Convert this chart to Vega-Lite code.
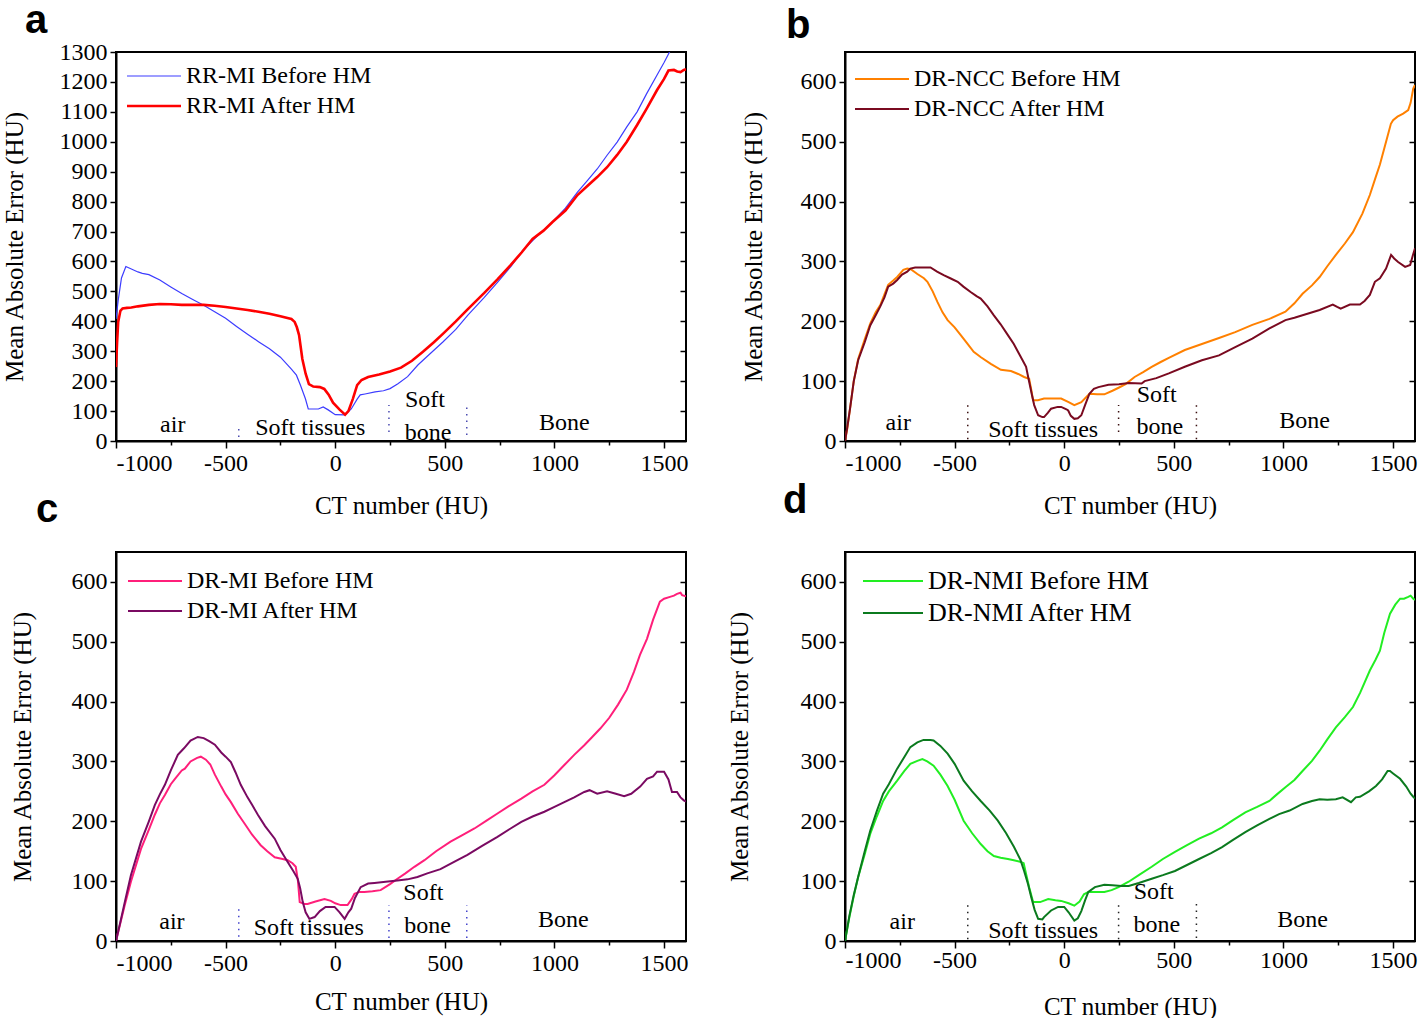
{
"$schema": "https://vega.github.io/schema/vega-lite/v6.json",
"background": "white",
"padding": {"left": 1, "top": 0, "right": 5, "bottom": 5},
"bounds": "flush",
"columns": 2,
"spacing": {"row": 111, "column": 159},
"resolve": {"scale": {"color": "independent", "strokeWidth": "independent"}, "legend": {"color": "independent"}},
"config": {
 "font": "Liberation Serif",
 "view": {"stroke": "black", "strokeWidth": 2},
 "axis": {"domainColor": "black", "domainWidth": 2, "tickColor": "black", "tickWidth": 1.5, "labelColor": "black", "labelFont": "Liberation Serif", "labelFontSize": 24, "titleFont": "Liberation Serif", "titleFontSize": 25, "titleFontWeight": "normal", "titleColor": "black", "grid": false, "labelPadding": 3},
 "legend": {"padding": 0, "symbolType": "M-1,0H5", "symbolSize": 324, "symbolStrokeWidth": 2, "labelFont": "Liberation Serif", "labelFontSize": 24, "labelColor": "black", "labelOffset": 38, "labelLimit": 500, "rowPadding": 6},
 "title": {"font": "Liberation Sans", "fontSize": 40, "fontWeight": "bold", "anchor": "start", "frame": "group", "baseline": "alphabetic", "color": "black"},
 "text": {"font": "Liberation Serif", "fontSize": 24, "color": "black"}
},
"datasets": {
 "la": [
  {"x":-1000,"y":408,"s":"B"},{"x":-990,"y":470,"s":"B"},{"x":-975,"y":545,"s":"B"},{"x":-955,"y":583,"s":"B"},{"x":-930,"y":575,"s":"B"},{"x":-900,"y":565,"s":"B"},{"x":-880,"y":560,"s":"B"},{"x":-850,"y":556,"s":"B"},{"x":-800,"y":538,"s":"B"},{"x":-750,"y":515,"s":"B"},{"x":-700,"y":493,"s":"B"},{"x":-650,"y":473,"s":"B"},{"x":-600,"y":454,"s":"B"},{"x":-550,"y":432,"s":"B"},{"x":-500,"y":410,"s":"B"},{"x":-450,"y":383,"s":"B"},{"x":-400,"y":357,"s":"B"},{"x":-350,"y":332,"s":"B"},{"x":-300,"y":308,"s":"B"},{"x":-250,"y":280,"s":"B"},{"x":-200,"y":240,"s":"B"},{"x":-177,"y":220,"s":"B"},{"x":-159,"y":187,"s":"B"},{"x":-136,"y":141,"s":"B"},{"x":-123,"y":107,"s":"B"},{"x":-100,"y":107,"s":"B"},{"x":-77,"y":107,"s":"B"},{"x":-55,"y":114,"s":"B"},{"x":-32,"y":104,"s":"B"},{"x":0,"y":88,"s":"B"},{"x":45,"y":87,"s":"B"},{"x":73,"y":107,"s":"B"},{"x":100,"y":140,"s":"B"},{"x":114,"y":154,"s":"B"},{"x":136,"y":157,"s":"B"},{"x":182,"y":164,"s":"B"},{"x":220,"y":168,"s":"B"},{"x":250,"y":175,"s":"B"},{"x":286,"y":191,"s":"B"},{"x":330,"y":215,"s":"B"},{"x":377,"y":254,"s":"B"},{"x":430,"y":290,"s":"B"},{"x":491,"y":331,"s":"B"},{"x":550,"y":373,"s":"B"},{"x":605,"y":421,"s":"B"},{"x":680,"y":480,"s":"B"},{"x":741,"y":531,"s":"B"},{"x":800,"y":582,"s":"B"},{"x":855,"y":636,"s":"B"},{"x":920,"y":684,"s":"B"},{"x":991,"y":732,"s":"B"},{"x":1050,"y":778,"s":"B"},{"x":1105,"y":832,"s":"B"},{"x":1150,"y":870,"s":"B"},{"x":1195,"y":909,"s":"B"},{"x":1240,"y":955,"s":"B"},{"x":1286,"y":999,"s":"B"},{"x":1330,"y":1050,"s":"B"},{"x":1377,"y":1100,"s":"B"},{"x":1420,"y":1160,"s":"B"},{"x":1468,"y":1223,"s":"B"},{"x":1500,"y":1265,"s":"B"},{"x":1525,"y":1300,"s":"B"},{"x":1550,"y":1335,"s":"B"},
  {"x":-1000,"y":247,"s":"A"},{"x":-995,"y":330,"s":"A"},{"x":-990,"y":398,"s":"A"},{"x":-980,"y":435,"s":"A"},{"x":-970,"y":443,"s":"A"},{"x":-950,"y":445,"s":"A"},{"x":-930,"y":446,"s":"A"},{"x":-900,"y":450,"s":"A"},{"x":-850,"y":455,"s":"A"},{"x":-800,"y":458,"s":"A"},{"x":-750,"y":457,"s":"A"},{"x":-700,"y":455,"s":"A"},{"x":-650,"y":455,"s":"A"},{"x":-600,"y":455,"s":"A"},{"x":-550,"y":452,"s":"A"},{"x":-500,"y":448,"s":"A"},{"x":-450,"y":443,"s":"A"},{"x":-400,"y":438,"s":"A"},{"x":-350,"y":432,"s":"A"},{"x":-300,"y":425,"s":"A"},{"x":-250,"y":417,"s":"A"},{"x":-200,"y":408,"s":"A"},{"x":-185,"y":398,"s":"A"},{"x":-175,"y":380,"s":"A"},{"x":-165,"y":354,"s":"A"},{"x":-150,"y":274,"s":"A"},{"x":-135,"y":225,"s":"A"},{"x":-120,"y":190,"s":"A"},{"x":-100,"y":182,"s":"A"},{"x":-70,"y":180,"s":"A"},{"x":-50,"y":174,"s":"A"},{"x":-30,"y":155,"s":"A"},{"x":-10,"y":128,"s":"A"},{"x":20,"y":105,"s":"A"},{"x":45,"y":88,"s":"A"},{"x":60,"y":100,"s":"A"},{"x":80,"y":140,"s":"A"},{"x":100,"y":187,"s":"A"},{"x":120,"y":204,"s":"A"},{"x":150,"y":214,"s":"A"},{"x":200,"y":222,"s":"A"},{"x":250,"y":232,"s":"A"},{"x":300,"y":245,"s":"A"},{"x":350,"y":268,"s":"A"},{"x":400,"y":298,"s":"A"},{"x":450,"y":330,"s":"A"},{"x":491,"y":358,"s":"A"},{"x":550,"y":400,"s":"A"},{"x":605,"y":441,"s":"A"},{"x":680,"y":495,"s":"A"},{"x":741,"y":541,"s":"A"},{"x":800,"y":588,"s":"A"},{"x":850,"y":630,"s":"A"},{"x":900,"y":675,"s":"A"},{"x":950,"y":703,"s":"A"},{"x":991,"y":732,"s":"A"},{"x":1050,"y":770,"s":"A"},{"x":1105,"y":822,"s":"A"},{"x":1150,"y":852,"s":"A"},{"x":1195,"y":882,"s":"A"},{"x":1240,"y":915,"s":"A"},{"x":1286,"y":956,"s":"A"},{"x":1330,"y":1000,"s":"A"},{"x":1377,"y":1056,"s":"A"},{"x":1420,"y":1110,"s":"A"},{"x":1468,"y":1173,"s":"A"},{"x":1500,"y":1210,"s":"A"},{"x":1520,"y":1238,"s":"A"},{"x":1545,"y":1240,"s":"A"},{"x":1560,"y":1235,"s":"A"},{"x":1575,"y":1233,"s":"A"},{"x":1590,"y":1240,"s":"A"},{"x":1600,"y":1242,"s":"A"}
 ],
 "lb": [
  {"x":-1000,"y":0,"s":"B"},{"x":-990,"y":20,"s":"B"},{"x":-977,"y":54,"s":"B"},{"x":-960,"y":100,"s":"B"},{"x":-940,"y":137,"s":"B"},{"x":-910,"y":170,"s":"B"},{"x":-885,"y":196,"s":"B"},{"x":-860,"y":215,"s":"B"},{"x":-839,"y":227,"s":"B"},{"x":-820,"y":245,"s":"B"},{"x":-803,"y":261,"s":"B"},{"x":-780,"y":268,"s":"B"},{"x":-762,"y":274,"s":"B"},{"x":-734,"y":286,"s":"B"},{"x":-716,"y":288,"s":"B"},{"x":-700,"y":287,"s":"B"},{"x":-670,"y":279,"s":"B"},{"x":-640,"y":272,"s":"B"},{"x":-624,"y":266,"s":"B"},{"x":-600,"y":250,"s":"B"},{"x":-578,"y":232,"s":"B"},{"x":-555,"y":215,"s":"B"},{"x":-532,"y":202,"s":"B"},{"x":-500,"y":190,"s":"B"},{"x":-472,"y":177,"s":"B"},{"x":-440,"y":162,"s":"B"},{"x":-413,"y":149,"s":"B"},{"x":-380,"y":140,"s":"B"},{"x":-335,"y":129,"s":"B"},{"x":-289,"y":119,"s":"B"},{"x":-243,"y":117,"s":"B"},{"x":-210,"y":112,"s":"B"},{"x":-183,"y":107,"s":"B"},{"x":-160,"y":104,"s":"B"},{"x":-150,"y":85,"s":"B"},{"x":-142,"y":68,"s":"B"},{"x":-120,"y":68,"s":"B"},{"x":-92,"y":71,"s":"B"},{"x":-50,"y":71,"s":"B"},{"x":-14,"y":71,"s":"B"},{"x":20,"y":65,"s":"B"},{"x":46,"y":60,"s":"B"},{"x":78,"y":65,"s":"B"},{"x":115,"y":79,"s":"B"},{"x":150,"y":78,"s":"B"},{"x":183,"y":78,"s":"B"},{"x":220,"y":84,"s":"B"},{"x":248,"y":89,"s":"B"},{"x":280,"y":95,"s":"B"},{"x":321,"y":107,"s":"B"},{"x":360,"y":115,"s":"B"},{"x":399,"y":124,"s":"B"},{"x":440,"y":132,"s":"B"},{"x":477,"y":139,"s":"B"},{"x":550,"y":152,"s":"B"},{"x":628,"y":162,"s":"B"},{"x":706,"y":172,"s":"B"},{"x":780,"y":182,"s":"B"},{"x":858,"y":194,"s":"B"},{"x":936,"y":204,"s":"B"},{"x":1009,"y":216,"s":"B"},{"x":1050,"y":230,"s":"B"},{"x":1087,"y":246,"s":"B"},{"x":1130,"y":260,"s":"B"},{"x":1165,"y":274,"s":"B"},{"x":1200,"y":292,"s":"B"},{"x":1239,"y":311,"s":"B"},{"x":1280,"y":330,"s":"B"},{"x":1317,"y":349,"s":"B"},{"x":1360,"y":380,"s":"B"},{"x":1394,"y":411,"s":"B"},{"x":1420,"y":440,"s":"B"},{"x":1440,"y":462,"s":"B"},{"x":1468,"y":500,"s":"B"},{"x":1490,"y":530,"s":"B"},{"x":1500,"y":536,"s":"B"},{"x":1520,"y":542,"s":"B"},{"x":1546,"y":547,"s":"B"},{"x":1569,"y":553,"s":"B"},{"x":1580,"y":565,"s":"B"},{"x":1592,"y":589,"s":"B"},{"x":1600,"y":595,"s":"B"},
  {"x":-1000,"y":0,"s":"A"},{"x":-990,"y":22,"s":"A"},{"x":-977,"y":54,"s":"A"},{"x":-960,"y":100,"s":"A"},{"x":-940,"y":135,"s":"A"},{"x":-910,"y":165,"s":"A"},{"x":-885,"y":193,"s":"A"},{"x":-860,"y":210,"s":"A"},{"x":-839,"y":225,"s":"A"},{"x":-820,"y":240,"s":"A"},{"x":-803,"y":258,"s":"A"},{"x":-780,"y":263,"s":"A"},{"x":-762,"y":269,"s":"A"},{"x":-740,"y":278,"s":"A"},{"x":-716,"y":283,"s":"A"},{"x":-702,"y":288,"s":"A"},{"x":-680,"y":290,"s":"A"},{"x":-650,"y":290,"s":"A"},{"x":-610,"y":290,"s":"A"},{"x":-580,"y":283,"s":"A"},{"x":-550,"y":277,"s":"A"},{"x":-520,"y":272,"s":"A"},{"x":-486,"y":266,"s":"A"},{"x":-460,"y":258,"s":"A"},{"x":-427,"y":249,"s":"A"},{"x":-400,"y":242,"s":"A"},{"x":-381,"y":238,"s":"A"},{"x":-350,"y":225,"s":"A"},{"x":-321,"y":210,"s":"A"},{"x":-290,"y":195,"s":"A"},{"x":-257,"y":177,"s":"A"},{"x":-230,"y":162,"s":"A"},{"x":-211,"y":149,"s":"A"},{"x":-190,"y":135,"s":"A"},{"x":-174,"y":124,"s":"A"},{"x":-160,"y":99,"s":"A"},{"x":-148,"y":78,"s":"A"},{"x":-137,"y":60,"s":"A"},{"x":-119,"y":43,"s":"A"},{"x":-100,"y":40,"s":"A"},{"x":-92,"y":40,"s":"A"},{"x":-75,"y":47,"s":"A"},{"x":-60,"y":54,"s":"A"},{"x":-30,"y":57,"s":"A"},{"x":-14,"y":57,"s":"A"},{"x":10,"y":53,"s":"A"},{"x":18,"y":51,"s":"A"},{"x":30,"y":42,"s":"A"},{"x":46,"y":37,"s":"A"},{"x":62,"y":38,"s":"A"},{"x":78,"y":43,"s":"A"},{"x":95,"y":60,"s":"A"},{"x":115,"y":79,"s":"A"},{"x":135,"y":87,"s":"A"},{"x":156,"y":90,"s":"A"},{"x":202,"y":94,"s":"A"},{"x":250,"y":95,"s":"A"},{"x":294,"y":97,"s":"A"},{"x":353,"y":96,"s":"A"},{"x":367,"y":100,"s":"A"},{"x":420,"y":105,"s":"A"},{"x":477,"y":113,"s":"A"},{"x":550,"y":124,"s":"A"},{"x":628,"y":135,"s":"A"},{"x":706,"y":143,"s":"A"},{"x":780,"y":157,"s":"A"},{"x":858,"y":171,"s":"A"},{"x":936,"y":188,"s":"A"},{"x":1009,"y":202,"s":"A"},{"x":1050,"y":206,"s":"A"},{"x":1087,"y":210,"s":"A"},{"x":1165,"y":219,"s":"A"},{"x":1225,"y":228,"s":"A"},{"x":1245,"y":224,"s":"A"},{"x":1261,"y":221,"s":"A"},{"x":1303,"y":228,"s":"A"},{"x":1349,"y":228,"s":"A"},{"x":1370,"y":234,"s":"A"},{"x":1394,"y":244,"s":"A"},{"x":1417,"y":266,"s":"A"},{"x":1440,"y":272,"s":"A"},{"x":1468,"y":288,"s":"A"},{"x":1491,"y":311,"s":"A"},{"x":1505,"y":305,"s":"A"},{"x":1523,"y":299,"s":"A"},{"x":1555,"y":291,"s":"A"},{"x":1578,"y":294,"s":"A"},{"x":1590,"y":310,"s":"A"},{"x":1600,"y":322,"s":"A"}
 ],
 "lc": [
  {"x":-1000,"y":0,"s":"B"},{"x":-980,"y":30,"s":"B"},{"x":-960,"y":60,"s":"B"},{"x":-932,"y":99,"s":"B"},{"x":-886,"y":154,"s":"B"},{"x":-850,"y":186,"s":"B"},{"x":-823,"y":211,"s":"B"},{"x":-800,"y":230,"s":"B"},{"x":-777,"y":244,"s":"B"},{"x":-750,"y":262,"s":"B"},{"x":-731,"y":271,"s":"B"},{"x":-700,"y":285,"s":"B"},{"x":-686,"y":288,"s":"B"},{"x":-660,"y":300,"s":"B"},{"x":-630,"y":306,"s":"B"},{"x":-613,"y":308,"s":"B"},{"x":-590,"y":303,"s":"B"},{"x":-570,"y":295,"s":"B"},{"x":-549,"y":278,"s":"B"},{"x":-520,"y":258,"s":"B"},{"x":-500,"y":245,"s":"B"},{"x":-476,"y":232,"s":"B"},{"x":-445,"y":213,"s":"B"},{"x":-413,"y":196,"s":"B"},{"x":-380,"y":178,"s":"B"},{"x":-340,"y":160,"s":"B"},{"x":-310,"y":150,"s":"B"},{"x":-276,"y":140,"s":"B"},{"x":-240,"y":137,"s":"B"},{"x":-217,"y":135,"s":"B"},{"x":-195,"y":130,"s":"B"},{"x":-180,"y":124,"s":"B"},{"x":-170,"y":100,"s":"B"},{"x":-162,"y":65,"s":"B"},{"x":-140,"y":62,"s":"B"},{"x":-126,"y":62,"s":"B"},{"x":-90,"y":66,"s":"B"},{"x":-49,"y":70,"s":"B"},{"x":-20,"y":67,"s":"B"},{"x":0,"y":63,"s":"B"},{"x":25,"y":60,"s":"B"},{"x":56,"y":60,"s":"B"},{"x":75,"y":70,"s":"B"},{"x":88,"y":79,"s":"B"},{"x":110,"y":82,"s":"B"},{"x":133,"y":82,"s":"B"},{"x":170,"y":83,"s":"B"},{"x":207,"y":85,"s":"B"},{"x":250,"y":95,"s":"B"},{"x":284,"y":104,"s":"B"},{"x":320,"y":113,"s":"B"},{"x":361,"y":124,"s":"B"},{"x":407,"y":135,"s":"B"},{"x":460,"y":150,"s":"B"},{"x":526,"y":166,"s":"B"},{"x":580,"y":177,"s":"B"},{"x":635,"y":188,"s":"B"},{"x":690,"y":201,"s":"B"},{"x":740,"y":213,"s":"B"},{"x":790,"y":225,"s":"B"},{"x":849,"y":238,"s":"B"},{"x":900,"y":250,"s":"B"},{"x":954,"y":261,"s":"B"},{"x":1000,"y":277,"s":"B"},{"x":1045,"y":294,"s":"B"},{"x":1090,"y":311,"s":"B"},{"x":1136,"y":327,"s":"B"},{"x":1170,"y":340,"s":"B"},{"x":1209,"y":355,"s":"B"},{"x":1250,"y":373,"s":"B"},{"x":1290,"y":395,"s":"B"},{"x":1330,"y":420,"s":"B"},{"x":1363,"y":450,"s":"B"},{"x":1390,"y":478,"s":"B"},{"x":1422,"y":505,"s":"B"},{"x":1450,"y":537,"s":"B"},{"x":1481,"y":567,"s":"B"},{"x":1500,"y":572,"s":"B"},{"x":1527,"y":575,"s":"B"},{"x":1545,"y":577,"s":"B"},{"x":1559,"y":580,"s":"B"},{"x":1575,"y":582,"s":"B"},{"x":1582,"y":578,"s":"B"},{"x":1600,"y":576,"s":"B"},
  {"x":-1000,"y":0,"s":"A"},{"x":-980,"y":32,"s":"A"},{"x":-960,"y":65,"s":"A"},{"x":-932,"y":110,"s":"A"},{"x":-886,"y":166,"s":"A"},{"x":-850,"y":200,"s":"A"},{"x":-823,"y":227,"s":"A"},{"x":-800,"y":245,"s":"A"},{"x":-777,"y":261,"s":"A"},{"x":-750,"y":285,"s":"A"},{"x":-718,"y":311,"s":"A"},{"x":-690,"y":322,"s":"A"},{"x":-660,"y":335,"s":"A"},{"x":-627,"y":341,"s":"A"},{"x":-600,"y":339,"s":"A"},{"x":-575,"y":334,"s":"A"},{"x":-549,"y":328,"s":"A"},{"x":-520,"y":315,"s":"A"},{"x":-500,"y":308,"s":"A"},{"x":-476,"y":299,"s":"A"},{"x":-455,"y":282,"s":"A"},{"x":-431,"y":261,"s":"A"},{"x":-400,"y":240,"s":"A"},{"x":-380,"y":228,"s":"A"},{"x":-353,"y":211,"s":"A"},{"x":-320,"y":192,"s":"A"},{"x":-276,"y":171,"s":"A"},{"x":-250,"y":152,"s":"A"},{"x":-217,"y":132,"s":"A"},{"x":-190,"y":116,"s":"A"},{"x":-171,"y":104,"s":"A"},{"x":-160,"y":88,"s":"A"},{"x":-148,"y":65,"s":"A"},{"x":-135,"y":48,"s":"A"},{"x":-118,"y":37,"s":"A"},{"x":-94,"y":40,"s":"A"},{"x":-70,"y":50,"s":"A"},{"x":-44,"y":57,"s":"A"},{"x":-3,"y":57,"s":"A"},{"x":20,"y":48,"s":"A"},{"x":43,"y":37,"s":"A"},{"x":60,"y":48,"s":"A"},{"x":73,"y":54,"s":"A"},{"x":90,"y":72,"s":"A"},{"x":116,"y":90,"s":"A"},{"x":150,"y":96,"s":"A"},{"x":179,"y":97,"s":"A"},{"x":230,"y":99,"s":"A"},{"x":284,"y":101,"s":"A"},{"x":330,"y":103,"s":"A"},{"x":375,"y":107,"s":"A"},{"x":420,"y":113,"s":"A"},{"x":480,"y":120,"s":"A"},{"x":540,"y":132,"s":"A"},{"x":603,"y":144,"s":"A"},{"x":670,"y":159,"s":"A"},{"x":740,"y":174,"s":"A"},{"x":800,"y":188,"s":"A"},{"x":849,"y":199,"s":"A"},{"x":900,"y":208,"s":"A"},{"x":954,"y":216,"s":"A"},{"x":1000,"y":224,"s":"A"},{"x":1045,"y":232,"s":"A"},{"x":1090,"y":240,"s":"A"},{"x":1136,"y":249,"s":"A"},{"x":1160,"y":252,"s":"A"},{"x":1195,"y":246,"s":"A"},{"x":1240,"y":250,"s":"A"},{"x":1280,"y":246,"s":"A"},{"x":1318,"y":242,"s":"A"},{"x":1350,"y":246,"s":"A"},{"x":1391,"y":258,"s":"A"},{"x":1422,"y":271,"s":"A"},{"x":1450,"y":275,"s":"A"},{"x":1468,"y":283,"s":"A"},{"x":1500,"y":283,"s":"A"},{"x":1520,"y":270,"s":"A"},{"x":1536,"y":249,"s":"A"},{"x":1559,"y":249,"s":"A"},{"x":1575,"y":240,"s":"A"},{"x":1590,"y":235,"s":"A"},{"x":1600,"y":233,"s":"A"}
 ],
 "ld": [
  {"x":-1000,"y":0,"s":"B"},{"x":-980,"y":40,"s":"B"},{"x":-960,"y":75,"s":"B"},{"x":-940,"y":107,"s":"B"},{"x":-910,"y":145,"s":"B"},{"x":-885,"y":179,"s":"B"},{"x":-855,"y":208,"s":"B"},{"x":-826,"y":234,"s":"B"},{"x":-800,"y":250,"s":"B"},{"x":-762,"y":268,"s":"B"},{"x":-730,"y":284,"s":"B"},{"x":-702,"y":296,"s":"B"},{"x":-670,"y":301,"s":"B"},{"x":-647,"y":304,"s":"B"},{"x":-625,"y":300,"s":"B"},{"x":-596,"y":293,"s":"B"},{"x":-565,"y":278,"s":"B"},{"x":-532,"y":259,"s":"B"},{"x":-500,"y":236,"s":"B"},{"x":-459,"y":201,"s":"B"},{"x":-420,"y":180,"s":"B"},{"x":-381,"y":162,"s":"B"},{"x":-350,"y":150,"s":"B"},{"x":-321,"y":142,"s":"B"},{"x":-290,"y":139,"s":"B"},{"x":-257,"y":137,"s":"B"},{"x":-230,"y":135,"s":"B"},{"x":-197,"y":132,"s":"B"},{"x":-185,"y":130,"s":"B"},{"x":-174,"y":112,"s":"B"},{"x":-160,"y":90,"s":"B"},{"x":-142,"y":65,"s":"B"},{"x":-110,"y":65,"s":"B"},{"x":-73,"y":70,"s":"B"},{"x":-40,"y":68,"s":"B"},{"x":-14,"y":67,"s":"B"},{"x":20,"y":63,"s":"B"},{"x":46,"y":59,"s":"B"},{"x":70,"y":66,"s":"B"},{"x":90,"y":78,"s":"B"},{"x":110,"y":82,"s":"B"},{"x":150,"y":82,"s":"B"},{"x":183,"y":82,"s":"B"},{"x":216,"y":85,"s":"B"},{"x":248,"y":90,"s":"B"},{"x":294,"y":99,"s":"B"},{"x":340,"y":110,"s":"B"},{"x":399,"y":124,"s":"B"},{"x":450,"y":137,"s":"B"},{"x":505,"y":149,"s":"B"},{"x":560,"y":160,"s":"B"},{"x":615,"y":171,"s":"B"},{"x":670,"y":180,"s":"B"},{"x":720,"y":190,"s":"B"},{"x":770,"y":202,"s":"B"},{"x":826,"y":215,"s":"B"},{"x":880,"y":224,"s":"B"},{"x":936,"y":234,"s":"B"},{"x":970,"y":245,"s":"B"},{"x":1009,"y":257,"s":"B"},{"x":1050,"y":269,"s":"B"},{"x":1087,"y":284,"s":"B"},{"x":1130,"y":301,"s":"B"},{"x":1165,"y":318,"s":"B"},{"x":1200,"y":337,"s":"B"},{"x":1239,"y":357,"s":"B"},{"x":1280,"y":374,"s":"B"},{"x":1317,"y":391,"s":"B"},{"x":1350,"y":415,"s":"B"},{"x":1394,"y":452,"s":"B"},{"x":1420,"y":470,"s":"B"},{"x":1440,"y":485,"s":"B"},{"x":1460,"y":515,"s":"B"},{"x":1486,"y":547,"s":"B"},{"x":1510,"y":562,"s":"B"},{"x":1532,"y":572,"s":"B"},{"x":1550,"y":572,"s":"B"},{"x":1569,"y":575,"s":"B"},{"x":1580,"y":577,"s":"B"},{"x":1592,"y":572,"s":"B"},{"x":1600,"y":570,"s":"B"},
  {"x":-1000,"y":0,"s":"A"},{"x":-980,"y":42,"s":"A"},{"x":-960,"y":77,"s":"A"},{"x":-940,"y":107,"s":"A"},{"x":-910,"y":150,"s":"A"},{"x":-885,"y":184,"s":"A"},{"x":-855,"y":217,"s":"A"},{"x":-826,"y":246,"s":"A"},{"x":-800,"y":262,"s":"A"},{"x":-762,"y":288,"s":"A"},{"x":-730,"y":307,"s":"A"},{"x":-702,"y":324,"s":"A"},{"x":-670,"y":332,"s":"A"},{"x":-642,"y":336,"s":"A"},{"x":-610,"y":336,"s":"A"},{"x":-596,"y":335,"s":"A"},{"x":-565,"y":326,"s":"A"},{"x":-532,"y":313,"s":"A"},{"x":-500,"y":296,"s":"A"},{"x":-459,"y":268,"s":"A"},{"x":-420,"y":250,"s":"A"},{"x":-381,"y":234,"s":"A"},{"x":-340,"y":218,"s":"A"},{"x":-303,"y":201,"s":"A"},{"x":-265,"y":180,"s":"A"},{"x":-229,"y":157,"s":"A"},{"x":-200,"y":136,"s":"A"},{"x":-183,"y":117,"s":"A"},{"x":-165,"y":95,"s":"A"},{"x":-151,"y":74,"s":"A"},{"x":-135,"y":52,"s":"A"},{"x":-119,"y":37,"s":"A"},{"x":-100,"y":36,"s":"A"},{"x":-92,"y":40,"s":"A"},{"x":-60,"y":51,"s":"A"},{"x":-28,"y":57,"s":"A"},{"x":0,"y":57,"s":"A"},{"x":20,"y":48,"s":"A"},{"x":46,"y":34,"s":"A"},{"x":62,"y":38,"s":"A"},{"x":78,"y":50,"s":"A"},{"x":95,"y":68,"s":"A"},{"x":110,"y":82,"s":"A"},{"x":140,"y":90,"s":"A"},{"x":183,"y":94,"s":"A"},{"x":220,"y":93,"s":"A"},{"x":261,"y":92,"s":"A"},{"x":294,"y":92,"s":"A"},{"x":340,"y":97,"s":"A"},{"x":399,"y":104,"s":"A"},{"x":450,"y":110,"s":"A"},{"x":505,"y":117,"s":"A"},{"x":560,"y":127,"s":"A"},{"x":615,"y":137,"s":"A"},{"x":670,"y":147,"s":"A"},{"x":720,"y":157,"s":"A"},{"x":770,"y":169,"s":"A"},{"x":826,"y":182,"s":"A"},{"x":880,"y":193,"s":"A"},{"x":936,"y":204,"s":"A"},{"x":980,"y":212,"s":"A"},{"x":1028,"y":218,"s":"A"},{"x":1087,"y":229,"s":"A"},{"x":1130,"y":234,"s":"A"},{"x":1165,"y":237,"s":"A"},{"x":1200,"y":236,"s":"A"},{"x":1239,"y":237,"s":"A"},{"x":1270,"y":240,"s":"A"},{"x":1308,"y":232,"s":"A"},{"x":1330,"y":240,"s":"A"},{"x":1349,"y":241,"s":"A"},{"x":1390,"y":250,"s":"A"},{"x":1422,"y":259,"s":"A"},{"x":1450,"y":270,"s":"A"},{"x":1475,"y":284,"s":"A"},{"x":1486,"y":284,"s":"A"},{"x":1500,"y":280,"s":"A"},{"x":1532,"y":271,"s":"A"},{"x":1560,"y":258,"s":"A"},{"x":1580,"y":246,"s":"A"},{"x":1592,"y":241,"s":"A"},{"x":1600,"y":238,"s":"A"}
 ],
 "ta": [{"x":-741,"y":53,"t":"air"},{"x":-114,"y":43,"t":"Soft tissues"},{"x":409,"y":137,"t":"Soft"},{"x":423,"y":27,"t":"bone"},{"x":1045,"y":60,"t":"Bone"}],
 "tb": [{"x":-757,"y":30,"t":"air"},{"x":-96,"y":18,"t":"Soft tissues"},{"x":422,"y":77,"t":"Soft"},{"x":436,"y":23,"t":"bone"},{"x":1096,"y":33,"t":"Bone"}],
 "tc": [{"x":-745,"y":32,"t":"air"},{"x":-121,"y":22,"t":"Soft tissues"},{"x":402,"y":80,"t":"Soft"},{"x":421,"y":25,"t":"bone"},{"x":1040,"y":35,"t":"Bone"}],
 "td": [{"x":-739,"y":32,"t":"air"},{"x":-96,"y":17,"t":"Soft tissues"},{"x":408,"y":82,"t":"Soft"},{"x":422,"y":27,"t":"bone"},{"x":1087,"y":35,"t":"Bone"}],
 "sa": [{"x":-440,"y":13,"y2":55},{"x":245,"y":30,"y2":120},{"x":600,"y":20,"y2":123}],
 "sb": [{"x":-440,"y":3,"y2":60},{"x":248,"y":15,"y2":60},{"x":603,"y":3,"y2":62}],
 "sc": [{"x":-440,"y":7,"y2":57},{"x":245,"y":5,"y2":60},{"x":600,"y":5,"y2":60}],
 "sd": [{"x":-440,"y":3,"y2":62},{"x":248,"y":3,"y2":62},{"x":603,"y":5,"y2":65}]
},
"concat": [
 {
  "title": {"text": "a", "dx": -91, "offset": -1},
  "width": 570, "height": 389,
  "resolve": {"axis": {"x": "independent", "y": "independent"}},
  "layer": [
   {"data": {"name": "la"}, "mark": {"type": "line", "clip": true},
    "encoding": {
     "x": {"field": "x", "type": "quantitative", "scale": {"domain": [-1000, 1600], "nice": false}, "axis": {"title": "CT number (HU)", "values": [-1000,-500,0,500,1000,1500], "labelExpr": "'' + datum.value", "labelFont": "Liberation Serif", "tickSize": 7, "labelPadding": 3, "titlePadding": 18}},
     "y": {"field": "y", "type": "quantitative", "scale": {"domain": [0, 1300], "nice": false}, "axis": {"title": "Mean Absolute Error (HU)", "values": [0,100,200,300,400,500,600,700,800,900,1000,1100,1200,1300], "labelExpr": "'' + datum.value", "labelFont": "Liberation Serif", "tickSize": 6, "titlePadding": 32}},
     "color": {"field": "s", "type": "nominal", "scale": {"domain": ["B", "A"], "range": ["#3c3cff", "#ff0000"]}, "legend": {"title": null, "orient": "none", "legendX": 8, "legendY": 12, "labelExpr": "datum.label === 'B' ? 'RR-MI Before HM' : 'RR-MI After HM'"}},
     "strokeWidth": {"field": "s", "type": "nominal", "scale": {"domain": ["B", "A"], "range": [1.2, 2.6]}, "legend": null}
    }},
   {"data": {"name": "sa"}, "mark": {"type": "rule", "strokeDash": [1.5, 5], "strokeWidth": 1.5, "color": "#4a4ab0"},
    "encoding": {
     "x": {"field": "x", "type": "quantitative", "scale": {"domain": [-1000, 1600], "nice": false}, "axis": null},
     "y": {"field": "y", "type": "quantitative", "scale": {"domain": [0, 1300], "nice": false}, "axis": {"orient": "right", "title": null, "labels": false, "domain": false, "tickSize": -6, "values": [100,200,300,400,500,600,700,800,900,1000,1100,1200]}},
     "y2": {"field": "y2"}
    }},
   {"data": {"name": "ta"}, "mark": {"type": "text", "align": "center", "baseline": "middle"},
    "encoding": {
     "x": {"field": "x", "type": "quantitative", "scale": {"domain": [-1000, 1600], "nice": false}, "axis": {"orient": "bottom", "title": null, "labels": false, "domain": false, "tickSize": 4, "values": [-750,-250,250,750,1250]}},
     "y": {"field": "y", "type": "quantitative", "scale": {"domain": [0, 1300], "nice": false}, "axis": null},
     "text": {"field": "t"}
    }}
  ]
 },
 {
  "title": {"text": "b", "dx": -59, "offset": 6},
  "width": 570, "height": 389,
  "resolve": {"axis": {"x": "independent", "y": "independent"}},
  "layer": [
   {"data": {"name": "lb"}, "mark": {"type": "line", "clip": true, "strokeWidth": 2},
    "encoding": {
     "x": {"field": "x", "type": "quantitative", "scale": {"domain": [-1000, 1600], "nice": false}, "axis": {"title": "CT number (HU)", "values": [-1000,-500,0,500,1000,1500], "labelExpr": "'' + datum.value", "labelFont": "Liberation Serif", "tickSize": 7, "labelPadding": 3, "titlePadding": 18}},
     "y": {"field": "y", "type": "quantitative", "scale": {"domain": [0, 650], "nice": false}, "axis": {"title": "Mean Absolute Error (HU)", "values": [0,100,200,300,400,500,600], "labelExpr": "'' + datum.value", "labelFont": "Liberation Serif", "tickSize": 6, "titlePadding": 34}},
     "color": {"field": "s", "type": "nominal", "scale": {"domain": ["B", "A"], "range": ["#ff8000", "#7a0a20"]}, "legend": {"title": null, "orient": "none", "legendX": 7, "legendY": 15, "labelExpr": "datum.label === 'B' ? 'DR-NCC Before HM' : 'DR-NCC After HM'"}}
    }},
   {"data": {"name": "sb"}, "mark": {"type": "rule", "strokeDash": [1.5, 5], "strokeWidth": 1.5, "color": "#3a1010"},
    "encoding": {
     "x": {"field": "x", "type": "quantitative", "scale": {"domain": [-1000, 1600], "nice": false}, "axis": null},
     "y": {"field": "y", "type": "quantitative", "scale": {"domain": [0, 650], "nice": false}, "axis": {"orient": "right", "title": null, "labels": false, "domain": false, "tickSize": -6, "values": [100,200,300,400,500,600]}},
     "y2": {"field": "y2"}
    }},
   {"data": {"name": "tb"}, "mark": {"type": "text", "align": "center", "baseline": "middle"},
    "encoding": {
     "x": {"field": "x", "type": "quantitative", "scale": {"domain": [-1000, 1600], "nice": false}, "axis": {"orient": "bottom", "title": null, "labels": false, "domain": false, "tickSize": 4, "values": [-750,-250,250,750,1250]}},
     "y": {"field": "y", "type": "quantitative", "scale": {"domain": [0, 650], "nice": false}, "axis": null},
     "text": {"field": "t"}
    }}
  ]
 },
 {
  "title": {"text": "c", "dx": -80, "offset": 22},
  "width": 570, "height": 389,
  "resolve": {"axis": {"x": "independent", "y": "independent"}},
  "layer": [
   {"data": {"name": "lc"}, "mark": {"type": "line", "clip": true, "strokeWidth": 2},
    "encoding": {
     "x": {"field": "x", "type": "quantitative", "scale": {"domain": [-1000, 1600], "nice": false}, "axis": {"title": "CT number (HU)", "values": [-1000,-500,0,500,1000,1500], "labelExpr": "'' + datum.value", "labelFont": "Liberation Serif", "tickSize": 7, "labelPadding": 3, "titlePadding": 14}},
     "y": {"field": "y", "type": "quantitative", "scale": {"domain": [0, 650], "nice": false}, "axis": {"title": "Mean Absolute Error (HU)", "values": [0,100,200,300,400,500,600], "labelExpr": "'' + datum.value", "labelFont": "Liberation Serif", "tickSize": 6, "titlePadding": 36}},
     "color": {"field": "s", "type": "nominal", "scale": {"domain": ["B", "A"], "range": ["#ff1f7a", "#7a0a62"]}, "legend": {"title": null, "orient": "none", "legendX": 9, "legendY": 17, "labelExpr": "datum.label === 'B' ? 'DR-MI Before HM' : 'DR-MI After HM'"}}
    }},
   {"data": {"name": "sc"}, "mark": {"type": "rule", "strokeDash": [1.5, 5], "strokeWidth": 1.5, "color": "#4444cc"},
    "encoding": {
     "x": {"field": "x", "type": "quantitative", "scale": {"domain": [-1000, 1600], "nice": false}, "axis": null},
     "y": {"field": "y", "type": "quantitative", "scale": {"domain": [0, 650], "nice": false}, "axis": {"orient": "right", "title": null, "labels": false, "domain": false, "tickSize": -6, "values": [100,200,300,400,500,600]}},
     "y2": {"field": "y2"}
    }},
   {"data": {"name": "tc"}, "mark": {"type": "text", "align": "center", "baseline": "middle"},
    "encoding": {
     "x": {"field": "x", "type": "quantitative", "scale": {"domain": [-1000, 1600], "nice": false}, "axis": {"orient": "bottom", "title": null, "labels": false, "domain": false, "tickSize": 4, "values": [-750,-250,250,750,1250]}},
     "y": {"field": "y", "type": "quantitative", "scale": {"domain": [0, 650], "nice": false}, "axis": null},
     "text": {"field": "t"}
    }}
  ]
 },
 {
  "title": {"text": "d", "dx": -62, "offset": 31},
  "width": 570, "height": 389,
  "resolve": {"axis": {"x": "independent", "y": "independent"}},
  "layer": [
   {"data": {"name": "ld"}, "mark": {"type": "line", "clip": true, "strokeWidth": 2},
    "encoding": {
     "x": {"field": "x", "type": "quantitative", "scale": {"domain": [-1000, 1600], "nice": false}, "axis": {"title": "CT number (HU)", "values": [-1000,-500,0,500,1000,1500], "labelExpr": "'' + datum.value", "labelFont": "Liberation Serif", "tickSize": 7, "labelPadding": 0, "titlePadding": 22}},
     "y": {"field": "y", "type": "quantitative", "scale": {"domain": [0, 650], "nice": false}, "axis": {"title": "Mean Absolute Error (HU)", "values": [0,100,200,300,400,500,600], "labelExpr": "'' + datum.value", "labelFont": "Liberation Serif", "tickSize": 6, "titlePadding": 48}},
     "color": {"field": "s", "type": "nominal", "scale": {"domain": ["B", "A"], "range": ["#22ee22", "#0b7a1e"]}, "legend": {"title": null, "orient": "none", "legendX": 15, "legendY": 16, "symbolSize": 400, "labelOffset": 42, "labelFontSize": 26, "rowPadding": 6, "labelExpr": "datum.label === 'B' ? 'DR-NMI Before HM' : 'DR-NMI After HM'"}}
    }},
   {"data": {"name": "sd"}, "mark": {"type": "rule", "strokeDash": [1.5, 5], "strokeWidth": 1.5, "color": "#222222"},
    "encoding": {
     "x": {"field": "x", "type": "quantitative", "scale": {"domain": [-1000, 1600], "nice": false}, "axis": null},
     "y": {"field": "y", "type": "quantitative", "scale": {"domain": [0, 650], "nice": false}, "axis": {"orient": "right", "title": null, "labels": false, "domain": false, "tickSize": -6, "values": [100,200,300,400,500,600]}},
     "y2": {"field": "y2"}
    }},
   {"data": {"name": "td"}, "mark": {"type": "text", "align": "center", "baseline": "middle"},
    "encoding": {
     "x": {"field": "x", "type": "quantitative", "scale": {"domain": [-1000, 1600], "nice": false}, "axis": {"orient": "bottom", "title": null, "labels": false, "domain": false, "tickSize": 4, "values": [-750,-250,250,750,1250]}},
     "y": {"field": "y", "type": "quantitative", "scale": {"domain": [0, 650], "nice": false}, "axis": null},
     "text": {"field": "t"}
    }}
  ]
 }
]
}
